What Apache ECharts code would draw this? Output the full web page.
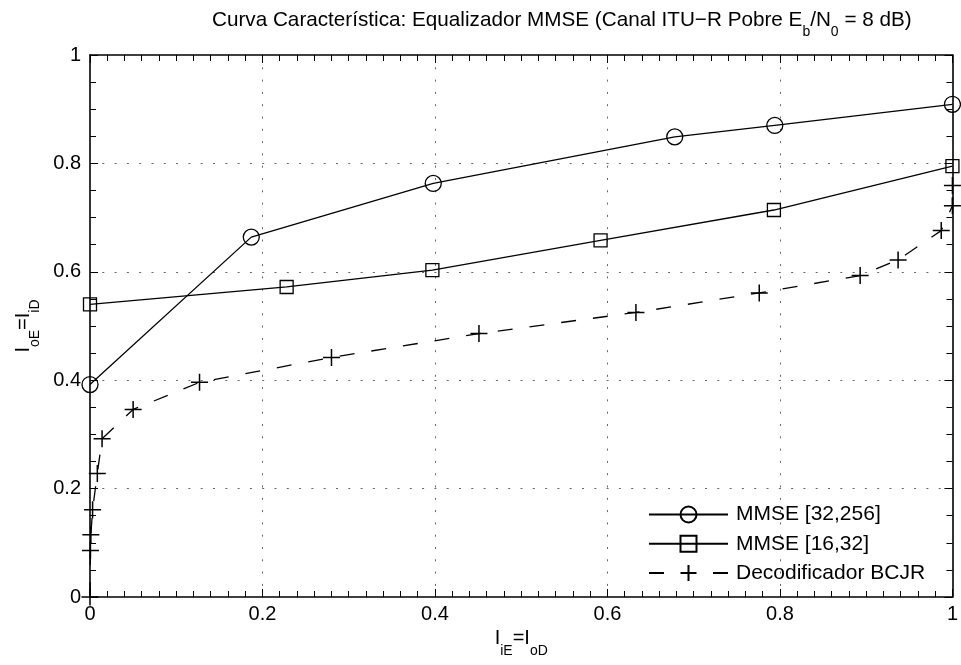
<!DOCTYPE html>
<html>
<head>
<meta charset="utf-8">
<script src="https://cdn.jsdelivr.net/npm/echarts@6/dist/echarts.min.js"></script>
<style>
html, body { margin: 0; padding: 0; background: #fff; }
#chart { width: 961px; height: 665px; }
</style>
</head>
<body>
<div id="chart"></div>
<script>
// MMSE [32,256]
const mmse256X = [0, 0.187, 0.398, 0.678, 0.794, 1.0];
const mmse256Y = [0.392, 0.664, 0.763, 0.849, 0.870, 0.909];
// MMSE [16,32]
const mmse32X = [0, 0.228, 0.397, 0.592, 0.793, 1.0];
const mmse32Y = [0.540, 0.572, 0.603, 0.658, 0.714, 0.795];
// Decodificador BCJR
const bcjrX = [0, 0.0005, 0.001, 0.003, 0.0085, 0.014, 0.050, 0.127, 0.280, 0.451, 0.633, 0.776, 0.893, 0.937, 0.987, 1.0, 1.0];
const bcjrY = [0, 0.086, 0.115, 0.161, 0.228, 0.292, 0.346, 0.396, 0.442, 0.486, 0.525, 0.561, 0.593, 0.622, 0.676, 0.722, 0.759];

const seriesNames = ['MMSE [32,256]', 'MMSE [16,32]', 'Decodificador BCJR'];

const FONT = '"Liberation Sans", Arial, Helvetica, sans-serif';
const pairs = (xs, ys) => xs.map((x, i) => [x, ys[i]]);

// main text + subscript styles
const makeRich = (size) => ({
	m: { fontSize: size, lineHeight: 20, verticalAlign: 'top', fontFamily: FONT, color: '#000' },
	s: { fontSize: 14, lineHeight: 14, padding: [15, 0, 0, 0], verticalAlign: 'top', fontFamily: FONT, color: '#000' },
});
const rich = makeRich(20);

const black = { color: '#000' };

function makeAxis(pos, isX, main) {
	return {
		type: 'value',
		position: pos,
		min: 0,
		max: 1,
		interval: 0.2,
		axisLine: { show: true, onZero: false, lineStyle: { color: '#000', width: 1.6 } },
		axisTick: { show: true, inside: true, length: 8, lineStyle: black },
		minorTick: { show: true, splitNumber: isX ? 10 : 4, length: 6, lineStyle: black },
		axisLabel: { show: main, color: '#000', fontSize: 20, fontFamily: FONT, margin: isX ? 7 : 9 },
		splitLine: {
			show: main,
			showMinLine: false,
			showMaxLine: false,
			lineStyle: { color: '#666', width: 1, type: [2, 10.3] },
		},
	};
}

const xBottom = makeAxis('bottom', true, true);
Object.assign(xBottom, {
	name: '{m|I}{s|iE}{m|=I}{s|oD}',
	nameLocation: 'middle',
	nameGap: 28,
	nameTextStyle: { rich },
});
const yLeft = makeAxis('left', false, true);
Object.assign(yLeft, {
	name: '{m|I}{s|oE}{m|=I}{s|iD}',
	nameLocation: 'middle',
	nameRotate: 90,
	nameGap: 55,
	nameTextStyle: { rich },
});

const markerStyle = { color: 'none', borderColor: '#000', borderWidth: 1.3 };

const chart = echarts.init(document.getElementById('chart'));
chart.setOption({
	animation: false,
	backgroundColor: '#fff',
	textStyle: { fontFamily: FONT },
	title: {
		text: '{m|Curva Característica: Equalizador MMSE (Canal ITU\u2212R Pobre E}{s|b}{m|/N}{s|0}{m| = 8 dB)}',
		left: 212,
		top: 10,
		padding: 0,
		textStyle: { rich: makeRich(20.7), fontWeight: 'normal' },
	},
	grid: { left: 90, right: 7, top: 55, bottom: 68 },
	legend: {
		orient: 'vertical',
		left: 648,
		top: 504,
		padding: 0,
		itemWidth: 79,
		itemHeight: 20,
		itemGap: 8.3,
		selectedMode: false,
		textStyle: { color: '#000', fontSize: 21, lineHeight: 20, fontFamily: FONT, padding: [0, 0, 0, 3] },
		data: seriesNames,
	},
	xAxis: [xBottom, makeAxis('top', true, false)],
	yAxis: [yLeft, makeAxis('right', false, false)],
	series: [
		{
			name: seriesNames[0],
			type: 'line',
			data: pairs(mmse256X, mmse256Y),
			symbol: 'circle',
			symbolSize: 16,
			showAllSymbol: true,
			clip: false,
			lineStyle: { color: '#000', width: 1.3 },
			itemStyle: markerStyle,
			emphasis: { disabled: true },
		},
		{
			name: seriesNames[1],
			type: 'line',
			data: pairs(mmse32X, mmse32Y),
			symbol: 'rect',
			symbolSize: 13,
			showAllSymbol: true,
			clip: false,
			lineStyle: { color: '#000', width: 1.3 },
			itemStyle: markerStyle,
			emphasis: { disabled: true },
		},
		{
			name: seriesNames[2],
			type: 'line',
			data: pairs(bcjrX, bcjrY),
			symbol: 'path://M10,0L10,20M0,10L20,10',
			symbolSize: 17,
			showAllSymbol: true,
			clip: false,
			lineStyle: { color: '#000', width: 1.3, type: [15, 17] },
			itemStyle: { color: 'none', borderColor: '#000', borderWidth: 1.5 },
			emphasis: { disabled: true },
		},
	],
});
</script>
</body>
</html>
